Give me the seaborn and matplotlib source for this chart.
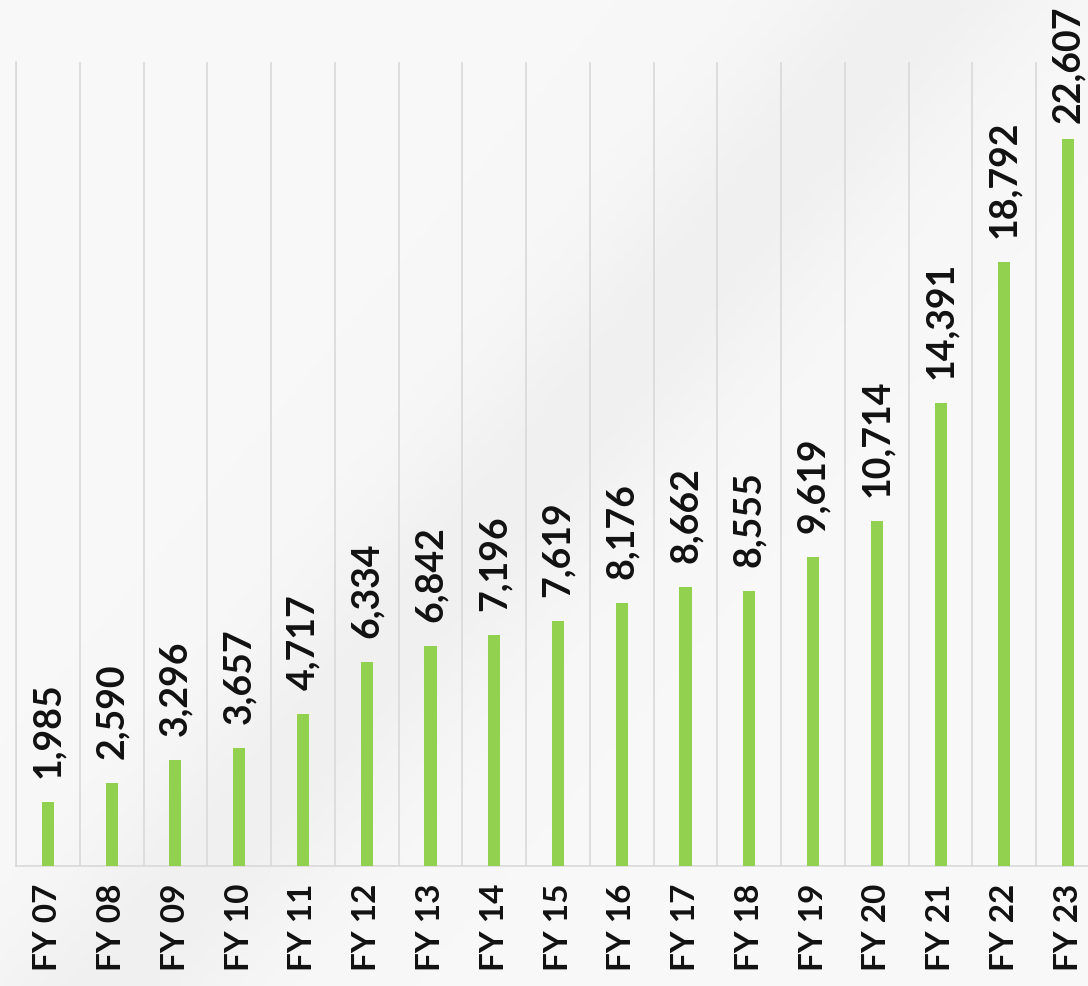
import seaborn as sns
import matplotlib.pyplot as plt
import numpy as np
import pandas as pd

years = ['FY 07', 'FY 08', 'FY 09', 'FY 10', 'FY 11', 'FY 12', 'FY 13', 'FY 14', 'FY 15',
         'FY 16', 'FY 17', 'FY 18', 'FY 19', 'FY 20', 'FY 21', 'FY 22', 'FY 23']
values = [1985, 2590, 3296, 3657, 4717, 6334, 6842, 7196, 7619,
          8176, 8662, 8555, 9619, 10714, 14391, 18792, 22607]

df = pd.DataFrame({'year': years, 'value': values})

sns.set_theme(style='white')
plt.rcParams['font.family'] = ['Lato', 'DejaVu Sans']

fig = plt.figure(figsize=(10.88, 9.87), dpi=100)
fig.patch.set_facecolor('#f7f7f7')

# faint diagonal shadow in the background
bg = fig.add_axes([0, 0, 1, 1], zorder=-10)
yy, xx = np.mgrid[0:1:300j, 0:1:300j]
d = (xx - 0.1 - 0.75 * yy)
shade = np.exp(-(d / 0.12) ** 2)
bg.imshow(shade, cmap=sns.blend_palette(['#f8f8f8', '#f0f0f0'], as_cmap=True),
          extent=[0, 1, 0, 1], aspect='auto', origin='lower', vmin=0, vmax=1)
bg.axis('off')

ax = fig.add_axes([16 / 1088, 120 / 987, 1084 / 1088, 804 / 987])
ax.patch.set_alpha(0)

sns.barplot(data=df, x='year', y='value', color='#92d050', width=0.19,
            saturation=1, linewidth=0, ax=ax, zorder=3)

ax.set_xlim(-0.5, 16.5)
ax.set_ylim(0, 25000)
ax.set_yticks([])
ax.set_xlabel('')
ax.set_ylabel('')

ax.set_xticks(np.arange(-0.5, 17), minor=True)
ax.grid(which='minor', axis='x', color='#d9d9d9', linewidth=1.2)
ax.tick_params(axis='x', which='both', length=0, pad=12)
ax.set_xticks(range(len(years)))
ax.set_xticklabels(years, rotation=90, fontsize=24, fontweight='bold', color='#111111')

for s in ['top', 'right']:
    ax.spines[s].set_visible(False)
for s in ['left', 'bottom']:
    ax.spines[s].set_color('#d9d9d9')
    ax.spines[s].set_linewidth(1.2)

for i, v in enumerate(values):
    # last label sits closer to its bar so it fits in the frame
    off = 12 if i == len(values) - 1 else 18
    ax.annotate(f'{v:,}', (i, v), xytext=(0, off), textcoords='offset points',
                rotation=90, ha='center', va='bottom', fontsize=27,
                fontweight='bold', color='#111111')

fig.savefig('out.png', dpi=100, facecolor=fig.get_facecolor())
